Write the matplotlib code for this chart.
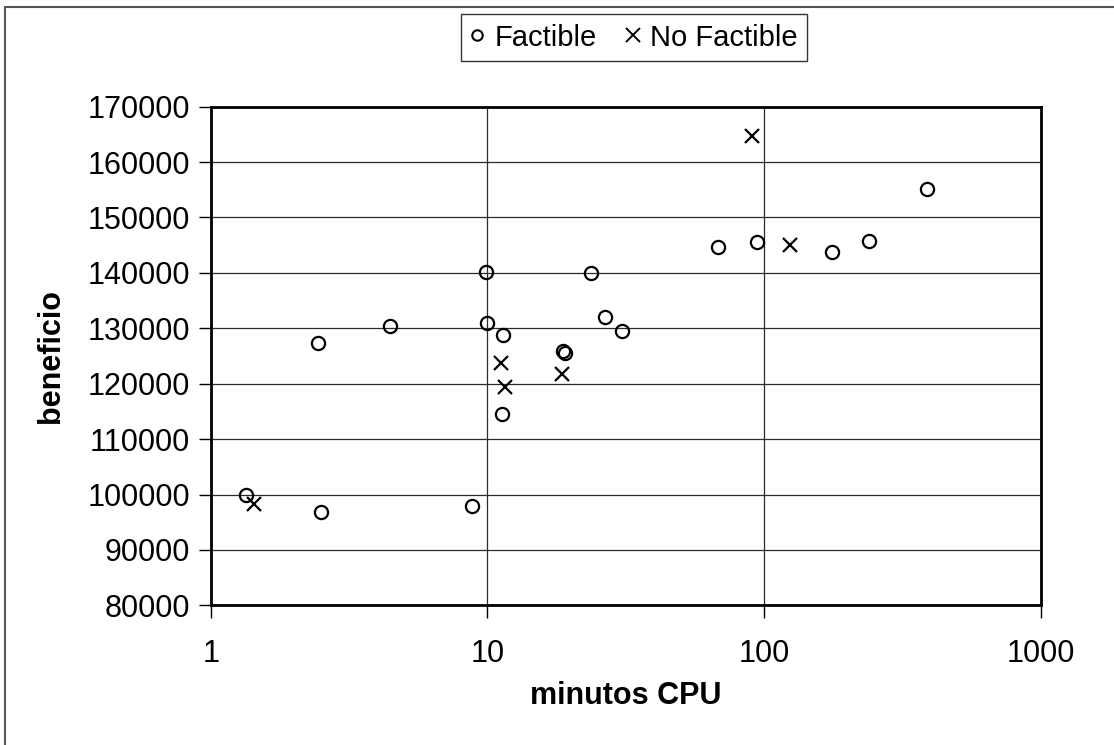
import matplotlib.pyplot as plt
from matplotlib.patches import Rectangle

plt.rcParams['font.family'] = ['Liberation Sans', 'DejaVu Sans']

# factible solutions: (minutos CPU, beneficio)
fact_t = [1.34, 2.50, 8.8, 2.45, 4.45, 9.86, 9.95, 11.35, 11.3, 18.7, 19.1,
          23.7, 26.6, 30.6, 67.8, 94.5, 176, 239, 388]
fact_b = [100000, 96900, 97850, 127400, 130400, 140100, 131000, 128700, 114500,
          125900, 125500, 139900, 132000, 129500, 144650, 145550, 143700, 145750, 155100]

# no factible solutions
nofact_t = [1.44, 11.2, 11.55, 18.6, 90.5, 123.5]
nofact_b = [98300, 123800, 119400, 121800, 164650, 145050]

fig = plt.figure(figsize=(11.14, 7.45), dpi=100)
ax = fig.add_axes([0.1891, 0.1875, 0.7454, 0.6693])

ax.plot(fact_t, fact_b, 'o', ms=9.5, mfc='none', mec='black', mew=1.6,
        label='Factible', zorder=3)
ax.plot(nofact_t, nofact_b, 'x', ms=10, mec='black', mew=1.6,
        label='No Factible', zorder=3)

ax.set_xscale('log')
ax.set_xlim(1, 1000)
ax.set_ylim(80000, 170000)
ax.set_xticks([1, 10, 100, 1000])
ax.set_xticklabels(['1', '10', '100', '1000'])
ax.minorticks_off()
ax.set_yticks(range(80000, 170001, 10000))

ax.grid(True, color='#2a2a2a', lw=0.9)
ax.set_axisbelow(True)
for s in ax.spines.values():
    s.set_linewidth(2)
ax.tick_params(axis='y', direction='out', length=9, width=1, pad=6, labelsize=22)
ax.tick_params(axis='x', direction='out', length=9, width=1, pad=15, labelsize=22)

ax.set_xlabel('minutos CPU', fontsize=22, fontweight='bold', labelpad=9)
ax.set_ylabel('beneficio', fontsize=22, fontweight='bold', labelpad=15)

leg = fig.legend(loc='center', bbox_to_anchor=(634 / 1114, 1 - 37.5 / 745),
                 ncol=2, fontsize=21, frameon=True, fancybox=False,
                 handlelength=0.48, handletextpad=0.35, columnspacing=1.0,
                 borderpad=0.33, borderaxespad=0)
leg.get_frame().set_edgecolor('black')
leg.get_frame().set_linewidth(1)
leg.legend_handles[0].set_markersize(7.5)
leg.legend_handles[0].set_markeredgewidth(1.5)
leg.legend_handles[1].set_markersize(9.5)
leg.legend_handles[1].set_markeredgewidth(1.4)

# outer chart border
fig.patches.append(Rectangle((5 / 1114, -0.1), 1.2, 1.1 - 7.5 / 745,
                             transform=fig.transFigure, fill=False,
                             ec='#555555', lw=1.5))

fig.savefig('out.png', dpi=100)
